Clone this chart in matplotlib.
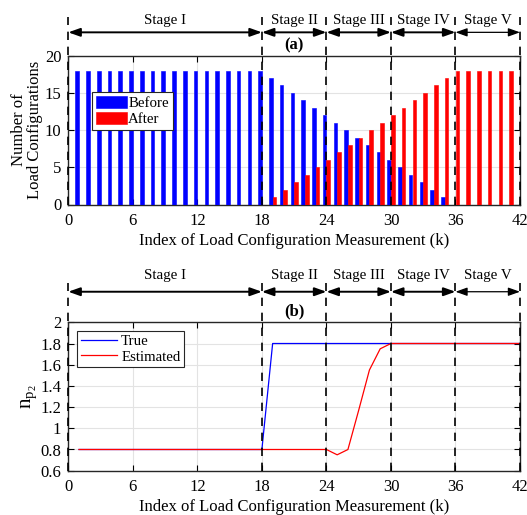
import matplotlib
matplotlib.use('Agg')
import matplotlib.pyplot as plt
import matplotlib.transforms as mtransforms
import numpy as np

plt.rcParams['font.family'] = ['Liberation Serif', 'DejaVu Serif']
plt.rcParams['mathtext.fontset'] = 'custom'
plt.rcParams['mathtext.rm'] = 'Liberation Serif'
plt.rcParams['mathtext.it'] = 'Liberation Serif'

# ---------------- data ----------------
k_bar = list(range(1, 42))
before = [18] * 18 + [17, 16, 15, 14, 13, 12, 11, 10, 9, 8, 7, 6, 5, 4, 3, 2, 1] + [0] * 6
after = [0] * 18 + [1, 2, 3, 4, 5, 6, 7, 8, 9, 10, 11, 12, 13, 14, 15, 16, 17] + [18] * 6

k_line = list(range(1, 43))
np_true = [0.8] * 18 + [1.8] * 24
np_est = [0.8] * 24 + [0.75, 0.8, 1.17, 1.55, 1.75] + [1.8] * 13

stage_bounds = [0, 18, 24, 30, 36, 42]
stage_names = ['Stage I', 'Stage II', 'Stage III', 'Stage IV', 'Stage V']
xticks = [0, 6, 12, 18, 24, 30, 36, 42]

FS = 12
LFS = 10.7
W, H = 527, 515
fig = plt.figure(figsize=(W / 100, H / 100), dpi=100)

def pos(l, t, r, b):
    return [l / W, 1 - b / H, (r - l) / W, (b - t) / H]

ax1 = fig.add_axes(pos(68.3, 55.7, 520, 204.5))
ax2 = fig.add_axes(pos(68.3, 322.3, 520, 470.7))

def style(ax):
    ax.set_xlim(0, 42)
    ax.set_xticks(xticks)
    ax.tick_params(direction='in', top=True, right=True, labelsize=FS, length=4,
                   width=0.8, pad=5)
    ax.tick_params(axis='x', pad=6)
    ax.grid(True, color='#e3e3e3', lw=0.8)
    ax.set_axisbelow(True)
    for s in ax.spines.values():
        s.set_linewidth(1.0)
        s.set_color('#262626')

def stages(ax, y_text, y_arrow, y_top, label, y_label):
    tr = mtransforms.blended_transform_factory(ax.transData, ax.transAxes)
    for xb in stage_bounds:
        ax.plot([xb, xb], [0, y_top], transform=tr, color='black', ls=(0, (5, 4)),
                lw=1.2, clip_on=False, zorder=5)
    for i, name in enumerate(stage_names):
        x0, x1 = stage_bounds[i], stage_bounds[i + 1]
        lw = 0.9 if i == 4 else 1.4
        ax.annotate('', xy=(x0, y_arrow), xytext=(x1, y_arrow), xycoords=tr, textcoords=tr,
                    arrowprops=dict(arrowstyle='<|-|>,head_length=0.7,head_width=0.25',
                                    color='black', lw=lw, shrinkA=0, shrinkB=0),
                    annotation_clip=False)
        ax.text((x0 + x1) / 2, y_text, name, transform=tr, ha='center', va='center',
                fontsize=10.8)
    ax.text(21, y_label, label, transform=tr, ha='center', va='center',
            fontsize=FS, fontweight='bold')

# ---------------- panel (a) ----------------
style(ax1)
w = 0.33
xb = np.array(k_bar)
ax1.bar(xb - 0.17, before, width=w, color='#0000ff', edgecolor='#0000ff', lw=0.4,
        label='Before', zorder=3)
ax1.bar(xb + 0.17, after, width=w, color='#ff0000', edgecolor='#ff0000', lw=0.4,
        label='After', zorder=3)
ax1.set_ylim(0, 20)
ax1.set_yticks([0, 5, 10, 15, 20])
ax1.set_xlabel('Index of Load Configuration Measurement (k)', fontsize=FS, labelpad=3)
ax1.set_ylabel('Number of\nLoad Configurations', fontsize=FS, labelpad=1, linespacing=1.05)
leg1 = ax1.legend(loc='upper left', bbox_to_anchor=(0.052, 0.755), fontsize=LFS,
                  frameon=True, fancybox=False, edgecolor='#262626', framealpha=1,
                  handlelength=2.1, handleheight=0.9, handletextpad=0.1,
                  borderpad=0.25, labelspacing=0.12, borderaxespad=0)
leg1.get_frame().set_linewidth(0.8)
stages(ax1, 1.237, 1.157, 1.26, '(a)', 1.072)

# ---------------- panel (b) ----------------
style(ax2)
ax2.plot(k_line, np_true, color='#0000ff', lw=0.9, label='True', zorder=3)
ax2.plot(k_line, np_est, color='#ff0000', lw=0.9, label='Estimated', zorder=3)
ax2.set_ylim(0.6, 2.0)
ax2.set_yticks([0.6, 0.8, 1.0, 1.2, 1.4, 1.6, 1.8, 2.0])
ax2.set_yticklabels(['0.6', '0.8', '1', '1.2', '1.4', '1.6', '1.8', '2'])
ax2.set_xlabel('Index of Load Configuration Measurement (k)', fontsize=FS, labelpad=3)
ax2.set_ylabel(r'$\mathregular{n_{p_2}}$', fontsize=15, labelpad=1)
leg2 = ax2.legend(loc='upper left', bbox_to_anchor=(0.02, 0.94), fontsize=LFS,
                  frameon=True, fancybox=False, edgecolor='#262626', framealpha=1,
                  handlelength=2.4, handletextpad=0.3,
                  borderpad=0.25, labelspacing=0.12, borderaxespad=0)
leg2.get_frame().set_linewidth(0.8)
stages(ax2, 1.312, 1.206, 1.267, '(b)', 1.071)

fig.savefig('out.png', dpi=100)
